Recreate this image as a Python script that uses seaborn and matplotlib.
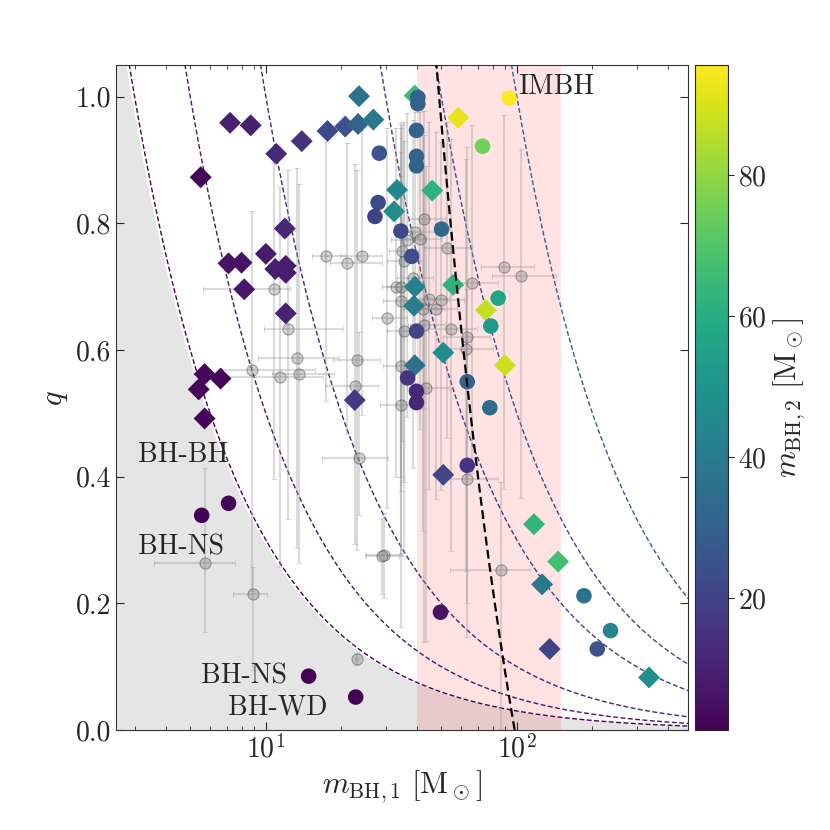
import numpy as np
import matplotlib
matplotlib.use("Agg")
import matplotlib.pyplot as plt
import seaborn as sns

# -----------------------------
# data
# -----------------------------
# simulated systems drawn as diamonds
dia_m1 = [7.2, 8.7, 11.0, 13.9, 17.6, 20.7, 23.3, 23.5, 26.8, 5.5, 11.9, 7.1,
          8.0, 10.0, 10.9, 12.0, 12.0, 8.2, 12.0, 5.7, 6.6, 5.4, 5.7, 22.6,
          39.2, 58.4, 33.3, 46.0, 32.4, 39.2, 55.7, 38.9, 75.2, 50.9, 89.6,
          39.2, 50.9, 117, 146, 126, 135, 336]
dia_q = [0.959, 0.955, 0.910, 0.930, 0.946, 0.953, 0.957, 1.001, 0.964, 0.873,
         0.792, 0.737, 0.738, 0.752, 0.728, 0.733, 0.722, 0.696, 0.658, 0.562,
         0.555, 0.538, 0.492, 0.521,
         1.002, 0.967, 0.853, 0.852, 0.819, 0.700, 0.703, 0.670, 0.663, 0.596,
         0.576, 0.576, 0.403, 0.325, 0.266, 0.230, 0.128, 0.083]
dia_m2 = [10, 10, 12, 15, 22, 25, 31, 36, 39, 3, 11, 6, 6, 8, 9, 9, 9, 7, 10,
          3, 3, 3, 2.5, 17,
          66, 92, 45, 62, 47, 42, 62, 41, 87, 47, 88, 37, 21, 63, 67, 39, 20, 47]

# simulated systems drawn as circles
circ_m1 = [28.3, 28.0, 27.2, 34.5, 40.3, 40.3, 39.8, 39.8, 39.8, 93.1, 73.0,
           50.1, 38.1, 84.2, 78.7, 39.8, 36.7, 39.8, 39.8, 63.4, 78.0, 63.4,
           185, 236, 209, 49.6, 7.1, 5.55, 14.8, 22.8]
circ_q = [0.911, 0.833, 0.811, 0.788, 0.999, 0.989, 0.947, 0.906, 0.891, 0.998,
          0.922, 0.791, 0.748, 0.682, 0.638, 0.630, 0.556, 0.535, 0.517, 0.550,
          0.509, 0.418, 0.212, 0.157, 0.128, 0.186, 0.358, 0.339, 0.085, 0.052]
circ_m2 = [26, 22, 20, 22, 31, 31, 31, 31, 31, 95, 75, 33, 24, 57, 52, 21, 16,
           12, 11, 31, 34, 16, 37, 44, 25, 6, 2.5, 1.9, 1.3, 1.3]

# observed events (grey, with error bars)
gw_m1 = [17.3, 21.0, 24.2, 42.7, 39.2, 41.1, 36.6, 52.5, 34.9, 35.5, 88.9, 103.7,
         38.4, 32.9, 34.4, 66.0, 44.7, 49.8, 34.4, 47.5, 42.3, 30.5, 42.7, 54.4,
         35.5, 63.0, 62.5, 23.0, 34.4, 22.7, 43.6, 34.4, 10.8, 12.3, 13.3, 8.8,
         11.4, 13.6, 23.5, 5.7, 8.9, 29.5, 23.0, 63.4, 86.1, 29.0]
gw_m1_lo = [2.1, 3.0, 4.5, 6, 5, 6, 5, 10, 4, 5, 17, 24,
            5, 4, 4, 12, 7, 8, 5, 8, 7, 4, 6, 10,
            5, 12, 12, 4.5, 5, 5.5, 7, 6, 5.2, 2.5, 4, 2.2,
            4.8, 3, 6.8, 2.1, 1.5, 4.7, 0.3, 9.4, 32, 4]
gw_m1_hi = [3.3, 7.9, 4.7, 9, 8, 9, 7, 14, 6, 6, 28, 40,
            8, 6, 7, 18, 9, 12, 7, 10, 9, 6, 9, 15,
            7, 15, 18, 5.4, 6, 5.2, 10, 7, 1.7, 8, 6.3, 6.9,
            5.5, 5, 7.1, 1.8, 1.2, 5.7, 0.3, 20.6, 27, 5]
gw_q = [0.749, 0.737, 0.748, 0.807, 0.786, 0.776, 0.774, 0.761, 0.756, 0.741,
        0.731, 0.717, 0.714, 0.700, 0.700, 0.706, 0.681, 0.679, 0.678, 0.665,
        0.665, 0.650, 0.639, 0.633, 0.630, 0.620, 0.601, 0.584, 0.575, 0.544,
        0.540, 0.513, 0.697, 0.634, 0.587, 0.569, 0.557, 0.563, 0.429, 0.264,
        0.214, 0.277, 0.112, 0.397, 0.252, 0.275]
gw_q_lo = [0.23, 0.27, 0.25, 0.30, 0.25, 0.30, 0.28, 0.30, 0.30, 0.35,
           0.35, 0.35, 0.30, 0.30, 0.30, 0.30, 0.30, 0.30, 0.30, 0.30,
           0.35, 0.30, 0.50, 0.35, 0.35, 0.42, 0.35, 0.30, 0.30, 0.25,
           0.40, 0.35, 0.30, 0.30, 0.30, 0.35, 0.30, 0.30, 0.09, 0.11,
           0.12, 0.068, 0.01, 0.25, 0.25, 0.06]
gw_q_hi = [0.18, 0.19, 0.20, 0.17, 0.19, 0.20, 0.20, 0.20, 0.20, 0.22,
           0.24, 0.20, 0.25, 0.25, 0.25, 0.25, 0.28, 0.25, 0.28, 0.28,
           0.28, 0.30, 0.30, 0.30, 0.30, 0.30, 0.30, 0.30, 0.30, 0.35,
           0.35, 0.40, 0.20, 0.25, 0.30, 0.25, 0.30, 0.30, 0.20, 0.15,
           0.044, 0.066, 0.01, 0.30, 0.14, 0.06]

# reference curves / regions
m2_levels = [3, 5, 10, 30, 50, 100]          # dashed lines of constant m2
m2_shades = [0.0, 0.06, 0.10, 0.17, 0.22, 0.30]
compact_m2 = 2.92                            # grey region: m2 below this
gap_lo, gap_hi = 40, 150                     # pink band
total_mass = 98                              # black dashed line m1 + m2
c_min, c_max = 1.3, 95.6

# -----------------------------
# style
# -----------------------------
sns.set_style("ticks")
plt.rcParams["font.family"] = "serif"
plt.rcParams["font.serif"] = ["cmr10", "DejaVu Serif"]
plt.rcParams["mathtext.fontset"] = "cm"
plt.rcParams["axes.formatter.use_mathtext"] = True
plt.rcParams["font.size"] = 20

fig = plt.figure(figsize=(8.3, 8.3), dpi=100)
ax = fig.add_axes([0.1398, 0.1205, 0.689, 0.801])
cax = fig.add_axes([0.837, 0.1205, 0.0398, 0.801])

ax.set_xscale("log")
ax.set_xlim(2.53, 480)
ax.set_ylim(0, 1.05)

m1_grid = np.logspace(np.log10(2.0), np.log10(700), 500)

# grey region and pink band
ax.fill_between(m1_grid, 0, compact_m2 / m1_grid, color="k", alpha=0.1,
                lw=0, zorder=0)
ax.axvspan(gap_lo, gap_hi, color="red", alpha=0.11, lw=0, zorder=0)

# constant m2 lines
cmap = plt.get_cmap("viridis")
for lev, sh in zip(m2_levels, m2_shades):
    ax.plot(m1_grid, lev / m1_grid, ls=(0, (3.5, 1.8)), lw=1.0,
            color=cmap(sh), zorder=1)

# total mass line
q_grid = np.linspace(0, 1.05, 100)
ax.plot(total_mass / (1 + q_grid), q_grid, color="k", ls=(0, (4, 2)),
        lw=1.6, zorder=6)

# observed events
ax.errorbar(gw_m1, gw_q, xerr=[gw_m1_lo, gw_m1_hi], yerr=[gw_q_lo, gw_q_hi],
            fmt="o", ms=8, mfc=(0.5, 0.5, 0.5, 0.35), mec=(0.25, 0.25, 0.25, 0.45),
            mew=0.8, ecolor=(0.6, 0.6, 0.6, 0.35), elinewidth=1.5, capsize=2,
            capthick=1.0, zorder=2)

# simulated systems
sns.scatterplot(x=dia_m1, y=dia_q, hue=dia_m2, palette="viridis",
                hue_norm=(c_min, c_max), marker="D", s=125, linewidth=0,
                legend=False, ax=ax, zorder=5)
sns.scatterplot(x=circ_m1, y=circ_q, hue=circ_m2, palette="viridis",
                hue_norm=(c_min, c_max), marker="o", s=125, linewidth=0,
                legend=False, ax=ax, zorder=5)

# labels in the plot
ax.text(3.09, 0.435, "BH-BH", ha="left", va="center", fontsize=20)
ax.text(3.09, 0.288, "BH-NS", ha="left", va="center", fontsize=20)
ax.text(5.51, 0.084, "BH-NS", ha="left", va="center", fontsize=20)
ax.text(7.06, 0.036, "BH-WD", ha="left", va="center", fontsize=20)
ax.text(101, 1.016, "IMBH", ha="left", va="center", fontsize=20)

ax.set_xlabel(r"$m_{\rm BH,1}\ [{\rm M}_\odot]$", fontsize=22)
ax.set_ylabel(r"$q$", fontsize=22)
ax.set_yticks([0.0, 0.2, 0.4, 0.6, 0.8, 1.0])
ax.set_yticklabels(["0.0", "0.2", "0.4", "0.6", "0.8", "1.0"])
ax.tick_params(which="both", direction="in", top=True, right=True,
               labelsize=20)
ax.tick_params(which="major", length=6, width=0.8)
ax.tick_params(which="minor", length=3, width=0.6)
for sp in ax.spines.values():
    sp.set_linewidth(0.8)
    sp.set_color("0.2")

# colorbar
sm = plt.cm.ScalarMappable(cmap="viridis",
                           norm=plt.Normalize(vmin=c_min, vmax=c_max))
cb = fig.colorbar(sm, cax=cax)
cb.set_ticks([20, 40, 60, 80])
cb.ax.tick_params(labelsize=20, length=4, width=0.8)
cb.set_label(r"$m_{\rm BH,2}\ [{\rm M}_\odot]$", fontsize=22)
cb.outline.set_linewidth(0.8)

fig.savefig("out.png", dpi=100)
